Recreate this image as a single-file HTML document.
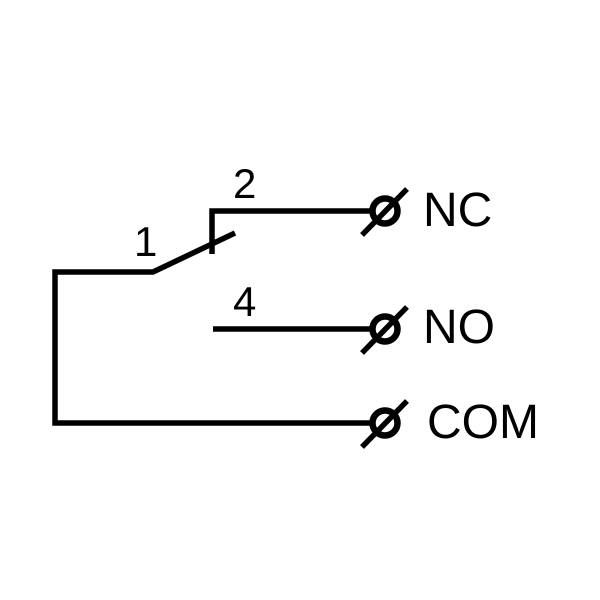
<!DOCTYPE html>
<html><head><style>body{margin:0;background:#fff}svg{display:block}</style></head><body>
<svg width="600" height="600" xmlns="http://www.w3.org/2000/svg">
<rect width="600" height="600" fill="#fff"/>
<g stroke="#000" stroke-width="5.5" fill="none">
<polyline points="372,211 212,211 212,254"/>
<polyline points="372,423 55,423 55,272 153,272 235,233"/>
<line x1="213" y1="329" x2="372" y2="329"/>
</g>
<g stroke="#000" stroke-width="6.5" fill="none">
<circle cx="385" cy="211" r="12.5"/>
<circle cx="385" cy="329" r="12.5"/>
<circle cx="385" cy="423" r="12.5"/>
</g>
<g stroke="#000" stroke-width="5.5">
<line x1="362" y1="235" x2="407" y2="189"/>
<line x1="362" y1="353" x2="407" y2="307"/>
<line x1="362" y1="447" x2="407" y2="401"/>
</g>
<g font-family="Liberation Sans, sans-serif" fill="#000">
<text x="233" y="198" font-size="42">2</text>
<text x="134" y="256" font-size="42">1</text>
<text x="233" y="316" font-size="42">4</text>
<text x="423" y="226" font-size="48">NC</text>
<text x="423" y="343" font-size="48">NO</text>
<text x="427" y="438" font-size="48">COM</text>
</g>
</svg>
</body></html>
